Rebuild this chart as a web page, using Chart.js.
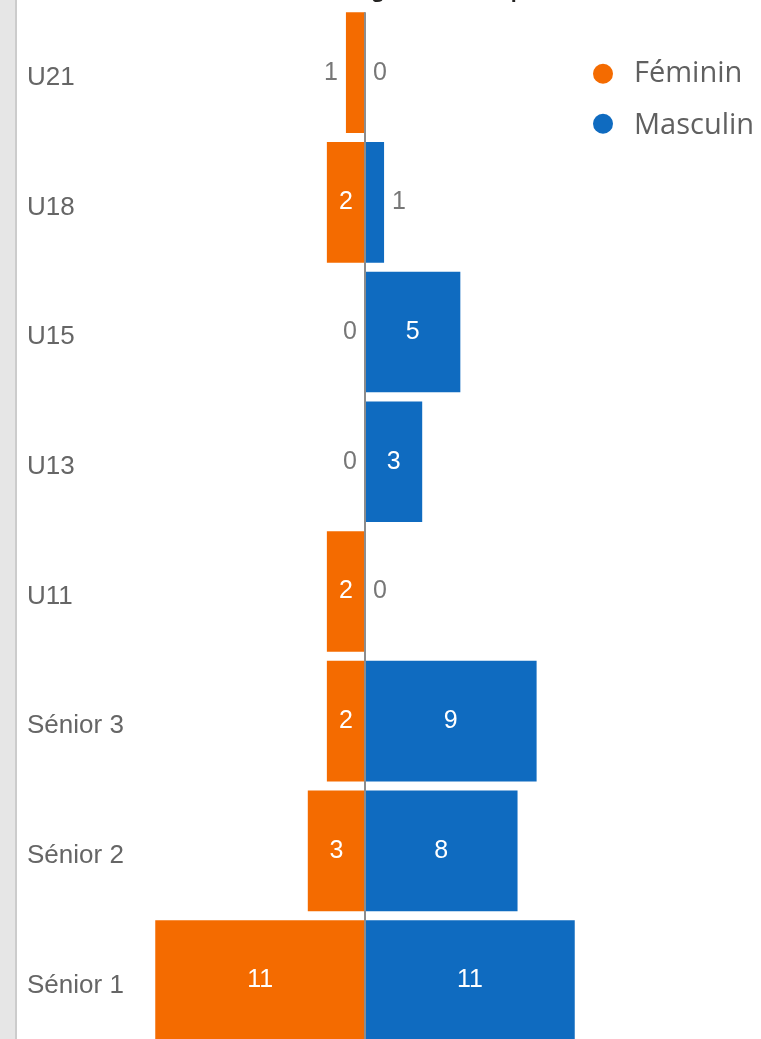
<!DOCTYPE html>
<html>
<head>
<meta charset="utf-8">
<script src="https://cdn.jsdelivr.net/npm/chart.js@4.4.0/dist/chart.umd.min.js"></script>
<style>
html,body{margin:0;padding:0;background:#fff;overflow:hidden;width:761px;height:1039px}
#wrap{position:absolute;left:0;top:-59px;width:761px;height:1120px}
</style>
</head>
<body>
<div id="wrap"><canvas id="c"></canvas></div>
<script>
const titleText = 'Catégories et sexe par club';
const categories = ['U21', 'U18', 'U15', 'U13', 'U11', 'Sénior 3', 'Sénior 2', 'Sénior 1'];
const feminin = [1, 2, 0, 0, 2, 2, 3, 11];
const masculin = [0, 1, 5, 3, 0, 9, 8, 11];
const seriesNames = ['Féminin', 'Masculin'];
const seriesColors = ['#F46B00', '#0F6BC0'];
const axisLimit = 11.8;

const stripPlugin = {
  id: 'strip',
  beforeDraw(chart) {
    const ctx = chart.ctx;
    ctx.save();
    ctx.fillStyle = '#e6e6e6';
    ctx.fillRect(0, 0, 15, chart.height);
    ctx.fillStyle = '#cccccc';
    ctx.fillRect(15, 0, 2, chart.height);
    ctx.restore();
  }
};

const zeroLinePlugin = {
  id: 'zeroLine',
  afterDatasetsDraw(chart) {
    const ctx = chart.ctx;
    const x = chart.scales.x.getPixelForValue(0);
    const first = chart.getDatasetMeta(0).data[0];
    const top = first.y - first.height / 2;
    ctx.save();
    ctx.strokeStyle = '#8c8c8c';
    ctx.lineWidth = 2;
    ctx.beginPath();
    ctx.moveTo(x, top);
    ctx.lineTo(x, chart.chartArea.bottom);
    ctx.stroke();
    ctx.restore();
  }
};

const valueLabelPlugin = {
  id: 'valueLabels',
  afterDatasetsDraw(chart) {
    const ctx = chart.ctx;
    const zero = chart.scales.x.getPixelForValue(0);
    ctx.save();
    ctx.font = '25px "Liberation Sans", Arial, sans-serif';
    ctx.textBaseline = 'middle';
    chart.data.datasets.forEach((ds, i) => {
      const meta = chart.getDatasetMeta(i);
      meta.data.forEach((el, j) => {
        const v = Math.abs(ds.data[j]);
        const end = v === 0 ? zero : el.x;
        const w = Math.abs(end - zero);
        const txt = String(v);
        if (w >= 30) {
          ctx.fillStyle = '#ffffff';
          ctx.textAlign = 'center';
          ctx.fillText(txt, (end + zero) / 2, el.y);
        } else {
          ctx.fillStyle = '#777777';
          if (i === 0) {
            ctx.textAlign = 'right';
            ctx.fillText(txt, Math.min(end, zero) - 8, el.y);
          } else {
            ctx.textAlign = 'left';
            ctx.fillText(txt, Math.max(end, zero) + 8, el.y);
          }
        }
      });
    });
    ctx.restore();
  }
};

const legendPlugin = {
  id: 'sideLegend',
  afterDraw(chart) {
    const ctx = chart.ctx;
    ctx.save();
    ctx.font = '29px "Open Sans", sans-serif';
    ctx.textBaseline = 'middle';
    ctx.textAlign = 'left';
    chart.data.datasets.forEach((ds, i) => {
      const cy = chart.chartArea.top + 66 + i * 50;
      ctx.fillStyle = ds.backgroundColor;
      ctx.beginPath();
      ctx.arc(603, cy, 10, 0, Math.PI * 2);
      ctx.fill();
      ctx.fillStyle = '#606060';
      ctx.fillText(ds.label, 634, cy + (i === 0 ? 0 : 2));
    });
    ctx.restore();
  }
};

new Chart(document.getElementById('c'), {
  type: 'bar',
  data: {
    labels: categories,
    datasets: [
      { label: seriesNames[0], data: feminin.map(v => -v), backgroundColor: seriesColors[0], barPercentage: 0.93, categoryPercentage: 1 },
      { label: seriesNames[1], data: masculin, backgroundColor: seriesColors[1], barPercentage: 0.93, categoryPercentage: 1 }
    ]
  },
  options: {
    indexAxis: 'y',
    responsive: true,
    maintainAspectRatio: false,
    animation: false,
    devicePixelRatio: 1,
    layout: { padding: { top: 38.4, left: 27, right: 171, bottom: 13 } },
    plugins: {
      legend: { display: false },
      tooltip: { enabled: false },
      title: {
        display: true,
        text: titleText,
        align: 'end',
        color: '#252423',
        font: { size: 19.5, weight: 'bold', family: '"Open Sans", sans-serif' },
        padding: { top: 0, bottom: 5 }
      }
    },
    scales: {
      x: { stacked: false, min: -axisLimit, max: axisLimit, display: false },
      y: {
        stacked: true,
        grid: { display: false },
        border: { display: false },
        ticks: { color: '#666666', crossAlign: 'far', padding: 0, labelOffset: 5, font: { size: 26, family: '"Liberation Sans", Arial, sans-serif' } },
        afterFit(scale) { scale.width = 113; }
      }
    }
  },
  plugins: [stripPlugin, zeroLinePlugin, valueLabelPlugin, legendPlugin]
});
</script>
</body>
</html>
